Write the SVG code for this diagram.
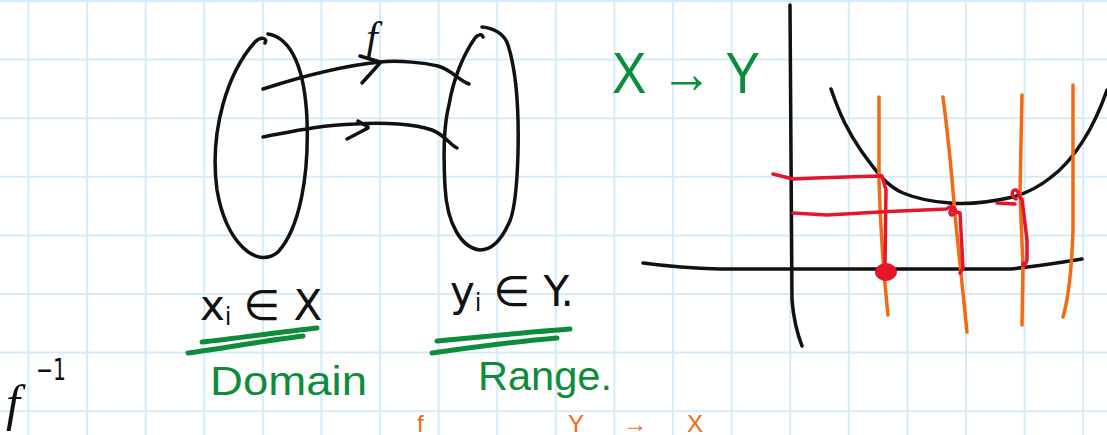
<svg xmlns="http://www.w3.org/2000/svg" width="1107" height="435" viewBox="0 0 1107 435">
<style>
.grid{stroke:#d4ebfb;stroke-width:2;fill:none}
.ink{fill:none;stroke:#111;stroke-width:3.5;stroke-linecap:round;stroke-linejoin:round}
.gline{fill:none;stroke:#0d8c3c;stroke-width:5;stroke-linecap:round}
.org{fill:none;stroke:#f26a12;stroke-width:3.5;stroke-linecap:round}
.red{fill:none;stroke:#e5162c;stroke-width:3.5;stroke-linecap:round;stroke-linejoin:round}
.tb{fill:#111;font-family:"DejaVu Sans",sans-serif}
.ti{fill:#111;font-family:"Liberation Serif",serif;font-style:italic}
.tg{fill:#0d8c3c;font-family:"Liberation Sans",sans-serif}
.to{fill:#f26a12;font-family:"Liberation Sans",sans-serif}
</style>
<rect width="1107" height="435" fill="#fff"/>
<g id="grid">
<path class="grid" d="M28.4,0V435M87,0V435M145.6,0V435M204.2,0V435M262.8,0V435M321.4,0V435M380,0V435M438.6,0V435M497.2,0V435M555.8,0V435M614.4,0V435M673,0V435M731.6,0V435M790.2,0V435M848.8,0V435M907.4,0V435M966,0V435M1024.6,0V435M1083.2,0V435M0,1H1107M0,59.6H1107M0,118.2H1107M0,176.8H1107M0,235.4H1107M0,294H1107M0,352.6H1107M0,411.2H1107"/>
</g>
<g id="domain-set">
<path class="ink" d="M268,34 C292,38 305,70 307,120 C309,175 300,228 278,252 C256,270 226,242 217,190 C209,130 228,72 255,42 C261,36 268,38 265,43"/>
</g>
<g id="range-set">
<path class="ink" d="M482,27 C495,28 505,35 508,45 C516,70 519,110 518,153 C517,190 514,215 508,225 C500,242 490,250 480,250 C462,248 447,225 445,187 C443,150 445,120 449,105 C453,80 463,55 475,38 C478,34 482,34 483,37"/>
</g>
<g id="connectors">
<path class="ink" d="M263,89 C300,77 340,66 380,62 C400,60 425,63 438,66 C452,70 458,80 469,84"/>
<path class="ink" d="M362,83 L380,63 M360,56 L380,62"/>
<path class="ink" d="M263,137 C290,132 320,125 355,124 C385,122 415,124 432,130 C445,135 450,145 457,148"/>
<path class="ink" d="M347,139 L368,128 M358,121 L368,127"/>
</g>
<g id="labels">
<text class="ti" x="366" y="51" font-size="42">f</text>
<text class="tg" x="612" y="93" font-size="58" textLength="148" lengthAdjust="spacingAndGlyphs">X → Y</text>
<text class="tb" x="200" y="320" font-size="42">x<tspan font-size="24" dy="5">i</tspan><tspan dy="-5" dx="12">∈ X</tspan></text>
<text class="tb" x="450" y="306" font-size="42">y<tspan font-size="24" dy="5">i</tspan><tspan dy="-5" dx="12">∈ Y.</tspan></text>
<path class="gline" d="M202,342 C240,338 280,332 317,328 M188,353 C230,347 270,340 303,336"/>
<path class="gline" d="M437,341 C480,337 530,332 570,329 M432,353 C475,347 520,341 557,338"/>
<text class="tg" x="210" y="395" font-size="40" textLength="157" lengthAdjust="spacingAndGlyphs">Domain</text>
<text class="tg" x="478" y="390" font-size="40" textLength="134" lengthAdjust="spacingAndGlyphs">Range.</text>
<text class="ti" x="6" y="420" font-size="50">f</text>
<text class="tb" x="36" y="380" font-size="30" textLength="30" lengthAdjust="spacingAndGlyphs">−1</text>
<text class="to" x="417" y="432" font-size="24">f</text>
<text class="to" x="568" y="432" font-size="24" textLength="135" lengthAdjust="spacing">Y → X</text>
</g>
<g id="graph">
<path class="ink" d="M790,5 L792,300 Q794,325 802,346"/>
<path class="ink" d="M643,263 Q680,268 720,269 L1010,269 Q1040,266 1082,259"/>
<path class="ink" d="M831,89 C840,115 848,132 862,152 C875,170 886,186 903,193 C920,200 935,202 950,203 C970,205 995,201 1013,197 C1030,192 1040,186 1050,178 C1075,160 1095,125 1107,90"/>
<path class="org" d="M879,97 L879,180 Q881,250 888,315"/>
<path class="org" d="M943,97 Q950,150 955,215 L967,332"/>
<path class="org" d="M1022,95 L1020,193 L1023,267 L1022,325"/>
<path class="org" d="M1073,85 L1073,230 Q1071,290 1063,317"/>
<path class="red" d="M773,174 L793,179 Q840,177 882,176 L886,190 L885,263"/>
<ellipse cx="886" cy="272" rx="11" ry="9" fill="#e5162c"/>
<path class="red" d="M793,213 L827,215 Q890,211 947,209 C950,205 957,207 955,213 C952,217 948,214 951,210 L960,213 L963,268 L960,273"/>
<path class="red" d="M997,203 L1015,204 M1016,199 C1010,196 1012,189 1016,190 C1020,192 1018,198 1022,199 L1027,240 L1027,260 C1026,265 1022,268 1023,263"/>
</g>
</svg>
